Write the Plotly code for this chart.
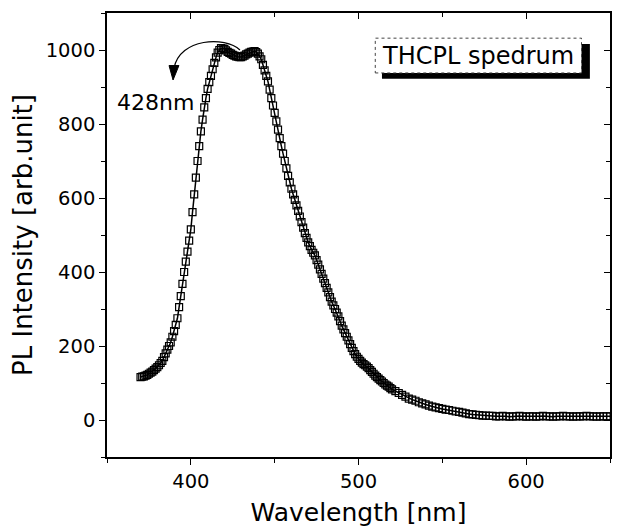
"""
PL spectrum of THCPL, recreated with plotly
"""
import plotly.graph_objects as go

# wavelength grid: 1 nm steps up to 520 nm, 2 nm steps after that
wl_fine = list(range(370, 521))
wl_tail = list(range(522, 651, 2))

# intensity [arb.unit]
pl_fine = [116, 117, 118, 120, 122, 125, 128, 131, 135, 139,
           143, 148, 154, 160, 170, 180, 190, 200, 210, 225,
           240, 257, 275, 305, 335, 368, 400, 428, 455, 485,
           515, 562, 610, 655, 700, 740, 780, 812, 845, 870,
           895, 913, 930, 948, 965, 980, 993, 1000, 1005, 1004,
           1003, 999, 995, 992, 990, 987, 985, 983, 982, 981,
           981, 983, 985, 988, 990, 993, 995, 996, 997, 994,
           990, 983, 975, 960, 945, 930, 915, 893, 870, 850,
           830, 807, 785, 762, 740, 720, 700, 680, 660, 642,
           625, 610, 595, 580, 565, 550, 535, 520, 505, 492,
           480, 470, 460, 452, 445, 432, 420, 407, 395, 382,
           370, 357, 345, 332, 320, 310, 300, 290, 280, 267,
           255, 245, 235, 225, 215, 205, 195, 186, 178, 171,
           165, 160, 155, 151, 148, 144, 140, 135, 130, 125,
           120, 116, 112, 108, 104, 100, 96, 93, 90, 86,
           83]
pl_tail = [78, 73, 68, 63, 58, 55, 52, 48, 45, 42,
           39, 36, 34, 32, 30, 28, 27, 25, 23, 22,
           20, 18, 16, 15, 14, 13, 12, 12, 11, 11,
           10, 10, 11, 10, 9, 10, 10, 11, 10, 9,
           10, 10, 9, 10, 11, 10, 10, 9, 10, 10,
           11, 10, 10, 9, 10, 10, 10, 11, 10, 10,
           9, 10, 10, 10, 10]

wavelength = wl_fine + wl_tail
intensity = pl_fine + pl_tail

x_ticks = [400, 500, 600]
y_ticks = [0, 200, 400, 600, 800, 1000]

FONT = "DejaVu Sans"

fig = go.Figure()
fig.add_trace(go.Scatter(x=wavelength, y=intensity, mode="lines+markers",
                         line=dict(color="black", width=1.5),
                         marker=dict(symbol="square-open", size=7, color="black",
                                     line=dict(width=1.2, color="black")),
                         showlegend=False, hoverinfo="skip"))
# dummy trace so the mirrored top / right axes get drawn
fig.add_trace(go.Scatter(x=[None], y=[None], xaxis="x2", yaxis="y2",
                         showlegend=False, hoverinfo="skip"))

axis_common = dict(showline=True, linecolor="black", linewidth=1.5, automargin=False,
                   showgrid=False, zeroline=False, tickcolor="black", tickwidth=1.3)

# page body keeps its 8px default margin, so the figure is a bit smaller than the window
fig.update_layout(
    width=613, height=519,
    margin=dict(l=99, r=11, t=5, b=70),
    paper_bgcolor="white", plot_bgcolor="white",
    font=dict(family=FONT, color="black", size=19),
    xaxis=dict(range=[350, 650], tickvals=x_ticks, ticks="outside", ticklen=6,
               minor=dict(dtick=50, tick0=350, ticks="outside", ticklen=4,
                          tickcolor="black", tickwidth=1.2),
               title=dict(text="Wavelength [nm]", font=dict(size=25), standoff=12),
               tickfont=dict(size=19.5), **axis_common),
    yaxis=dict(range=[-100, 1100], tickvals=y_ticks, ticks="outside", ticklen=6,
               minor=dict(dtick=100, tick0=-100, ticks="outside", ticklen=4,
                          tickcolor="black", tickwidth=1.2),
               title=dict(text="PL Intensity [arb.unit]", font=dict(size=26), standoff=8),
               tickfont=dict(size=19.5), **axis_common),
    xaxis2=dict(overlaying="x", side="top", matches="x", range=[350, 650],
                tickvals=x_ticks, ticks="inside", ticklen=6, showticklabels=False,
                minor=dict(dtick=50, tick0=350, ticks="inside", ticklen=4,
                           tickcolor="black", tickwidth=1.2),
                **axis_common),
    yaxis2=dict(overlaying="y", side="right", matches="y", range=[-100, 1100],
                tickvals=y_ticks, ticks="inside", ticklen=6, showticklabels=False,
                minor=dict(dtick=100, tick0=-100, ticks="inside", ticklen=4,
                           tickcolor="black", tickwidth=1.2),
                **axis_common),
)

# label box with drop shadow
fig.add_shape(type="rect", x0=514, x1=638, y0=922, y1=1016,
              xref="x", yref="y", fillcolor="black", line=dict(width=0))
fig.add_shape(type="rect", x0=510, x1=633, y0=938, y1=1032,
              xref="x", yref="y", fillcolor="white",
              line=dict(color="#444444", width=1, dash="dot"))
fig.add_annotation(x=571.5, y=985, xref="x", yref="y", text="THCPL spedrum",
                   showarrow=False, font=dict(family=FONT, size=24, color="black"))

# curved arrow pointing at the 428 nm peak
fig.add_shape(type="path", xref="x", yref="y",
              path="M 429.3,1000 C 420.4,1037.8 393.5,1032.4 390.0,951.4",
              line=dict(color="black", width=1.2))
fig.add_shape(type="path", xref="x", yref="y",
              path="M 387.0,958 L 392.9,958 L 389.4,919 Z",
              fillcolor="black", line=dict(color="black", width=1))
fig.add_annotation(x=379, y=859, xref="x", yref="y", text="428nm",
                   showarrow=False, font=dict(family=FONT, size=22, color="black"))

fig.write_html("out.html")
